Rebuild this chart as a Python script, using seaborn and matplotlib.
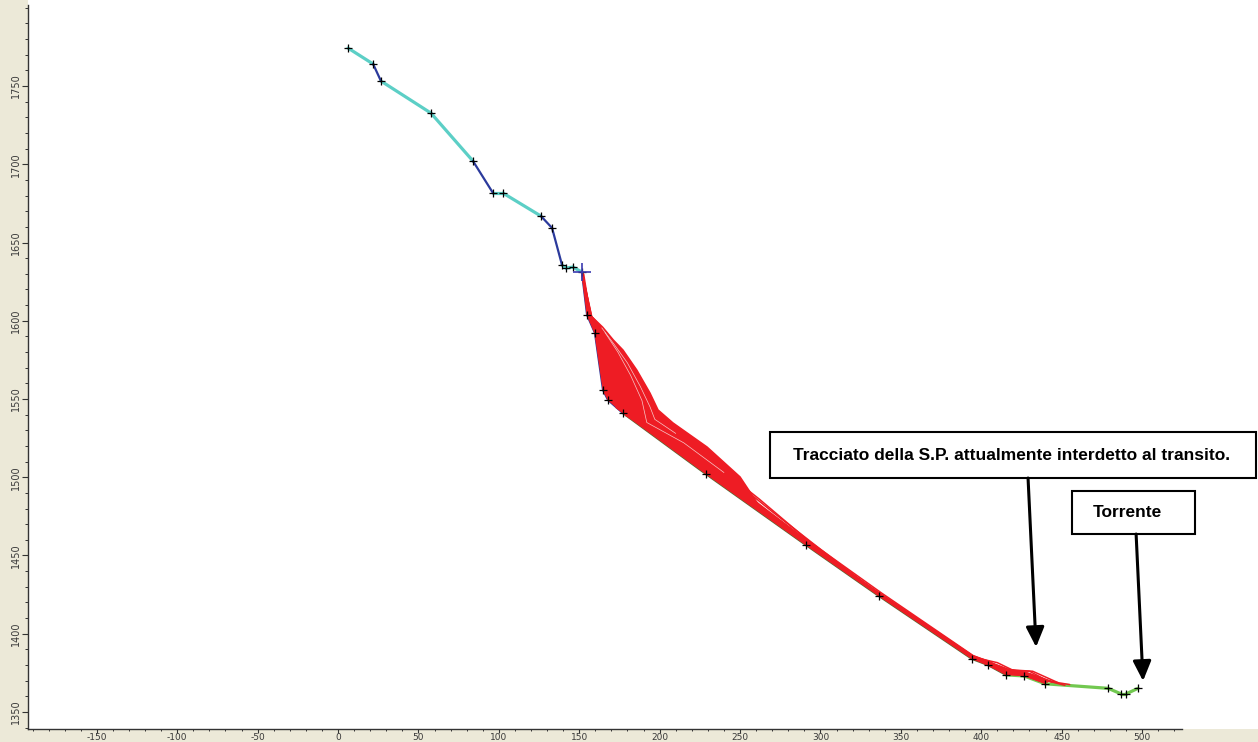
import numpy as np
import pandas as pd
import matplotlib
matplotlib.use("Agg")
import matplotlib.pyplot as plt
import seaborn as sns
from matplotlib.patches import Rectangle, FancyArrowPatch
from matplotlib.ticker import FixedLocator

# ---------------- data ----------------
slope_x = [6.2, 21.8, 26.7, 57.8, 83.9, 96.4, 102.6, 126.2, 133.1, 139.3, 141.8, 146.1,
           151.7, 154.9, 159.8, 164.8, 167.9, 177.2, 228.9, 291.0, 336.4, 394.3, 404.2,
           415.4, 426.6, 439.7, 478.9, 487.0, 490.0, 497.5]
slope_y = [1774.3, 1764.1, 1753.2, 1732.7, 1702.1, 1681.6, 1681.6, 1666.9, 1659.3, 1635.6,
           1633.7, 1634.3, 1631.1, 1603.7, 1592.2, 1555.8, 1549.4, 1541.0, 1502.0, 1456.7,
           1424.1, 1383.9, 1380.0, 1373.7, 1373.0, 1368.0, 1365.1, 1361.5, 1361.5, 1365.1]
# material of each slope segment (between consecutive vertices)
segment_material = ["A", "B", "A", "A", "B", "A", "A", "B", "B", "A", "A", "A",
                    "B", "B", "B", "B", "B",
                    "C", "C", "C", "C", "C", "C",
                    "D", "D", "D", "D", "D", "D"]

release_x = 151.7
release_y = 1631.1

# rock trajectories (x, y vertices)
traj_x = [
    [151.7, 155.0, 159.9, 165.0, 168.0, 177.3, 229.0, 291.0, 336.4, 394.3, 404.2, 415.4, 426.6, 439.7],
    [151.7, 155.6, 162.0, 168.0, 171.5, 173.0, 200.0, 229.5, 291.5, 336.8, 394.5, 415.6, 428.0, 441.0],
    [151.7, 156.2, 164.0, 172.0, 178.0, 181.0, 205.0, 230.0, 260.0, 292.0, 337.0, 395.0, 416.0, 430.0, 444.0],
    [151.7, 156.8, 166.0, 176.0, 184.0, 188.0, 210.0, 235.0, 262.0, 293.0, 338.0, 395.0, 417.0, 432.0, 448.0],
    [151.7, 157.0, 163.0, 169.0, 174.0, 177.5, 179.0, 200.0, 225.0, 255.0, 290.0, 336.5, 395.0, 410.0, 420.0, 436.0],
    [151.7, 157.4, 166.0, 174.0, 182.0, 189.0, 192.0, 215.0, 240.0, 270.0, 300.0, 336.5, 394.5, 416.0, 428.0, 446.0],
    [151.7, 157.6, 164.0, 172.0, 180.0, 188.0, 194.0, 197.0, 210.0, 228.0, 246.0, 265.0, 290.0, 336.5, 394.5, 415.0, 430.0, 442.0],
    [151.7, 157.8, 164.5, 171.2, 177.2, 185.8, 194.0, 199.0, 208.3, 229.5, 250.0, 262.4, 276.7, 304.1, 336.6, 394.5, 404.5, 415.6, 427.0, 440.0, 455.0],
    [151.7, 156.0, 160.5, 163.5, 165.5, 166.0, 177.5, 215.0, 245.0, 291.2, 336.5, 394.4, 415.5, 427.0, 452.0],
]
traj_y = [
    [1631.1, 1604.0, 1592.0, 1556.0, 1549.6, 1541.2, 1502.3, 1457.0, 1424.4, 1384.2, 1380.3, 1374.0, 1373.3, 1368.3],
    [1631.1, 1604.0, 1595.0, 1578.0, 1556.0, 1544.5, 1525.0, 1504.0, 1458.0, 1425.0, 1385.0, 1375.0, 1374.5, 1369.0],
    [1631.1, 1603.8, 1594.0, 1580.0, 1560.0, 1538.1, 1527.0, 1508.0, 1483.0, 1458.5, 1425.5, 1385.5, 1376.5, 1374.5, 1369.0],
    [1631.1, 1603.5, 1593.0, 1579.0, 1560.0, 1533.0, 1527.0, 1508.0, 1486.0, 1459.0, 1426.0, 1386.0, 1377.0, 1376.0, 1368.6],
    [1631.1, 1603.4, 1594.5, 1584.0, 1570.0, 1555.0, 1539.4, 1530.0, 1511.0, 1488.0, 1461.0, 1425.0, 1385.0, 1381.5, 1376.5, 1370.0],
    [1631.1, 1603.0, 1592.5, 1580.0, 1565.0, 1549.0, 1535.0, 1522.0, 1503.0, 1478.0, 1454.0, 1425.2, 1385.6, 1377.5, 1375.0, 1368.8],
    [1631.1, 1602.8, 1595.5, 1584.5, 1573.0, 1558.0, 1545.0, 1537.0, 1528.0, 1514.0, 1498.0, 1478.0, 1460.0, 1425.5, 1385.8, 1376.8, 1376.0, 1369.5],
    [1631.1, 1602.6, 1596.0, 1587.7, 1581.3, 1568.5, 1553.8, 1543.0, 1534.7, 1519.3, 1500.2, 1481.0, 1470.8, 1449.0, 1426.0, 1386.0, 1382.5, 1376.0, 1375.5, 1370.0, 1367.5],
    [1631.1, 1603.8, 1594.5, 1580.0, 1560.0, 1553.5, 1545.0, 1518.0, 1497.0, 1457.5, 1424.8, 1384.6, 1374.4, 1373.8, 1367.0],
]

# upper envelope of the dense trajectory fan
fan_upper_x = [151.7, 153.2, 156.0, 157.8, 164.5, 171.2, 177.2, 185.8, 194.0, 199.0, 208.3,
               229.5, 250.0, 262.4, 276.7, 304.1, 336.6, 394.5, 404.5, 415.6, 427.0, 440.0]
fan_upper_y = [1631.1, 1630.0, 1612.0, 1602.6, 1596.0, 1587.7, 1581.3, 1568.5, 1553.8, 1543.0,
               1534.7, 1519.3, 1500.2, 1481.0, 1470.8, 1449.0, 1426.0, 1386.0, 1382.5, 1376.0,
               1375.5, 1370.0]

x_major = list(range(-150, 501, 50))
y_major = list(range(1350, 1751, 50))

label_box = "Tracciato della S.P. attualmente interdetto al transito."
label_torrente = "Torrente"

# ---------------- styling ----------------
sns.set_style("white")
plt.rcParams["font.family"] = ["DejaVu Sans"]

BEIGE = "#ECE9D8"
CYAN = "#5ccfc6"
DBLUE = "#2b3a9c"
OLIVE = "#5b6a35"
GREEN = "#72c850"
RED = "#ee1c24"

palette = {"A": CYAN, "B": DBLUE, "C": OLIVE, "D": GREEN}
widths = {"A": 2.3, "B": 1.6, "C": 1.6, "D": 2.3}

W, H = 1258, 742
fig = plt.figure(figsize=(W / 100, H / 100), dpi=100, facecolor=BEIGE)
ax = fig.add_axes([28 / W, 13 / H, 1230 / W, 729 / H])
ax.set_facecolor("white")

XMIN, XMAX = -192.8, 572.1
YMIN, YMAX = 1339.1, 1805.0

# slope segments
rows = []
for i, m in enumerate(segment_material):
    rows.append(dict(seg=i, material=m, x=slope_x[i], y=slope_y[i], order=0))
    rows.append(dict(seg=i, material=m, x=slope_x[i + 1], y=slope_y[i + 1], order=1))
seg_df = pd.DataFrame(rows)
for m in ["C", "D", "A", "B"]:
    sub = seg_df[seg_df.material == m]
    sns.lineplot(data=sub, x="x", y="y", units="seg", estimator=None, sort=False,
                 color=palette[m], linewidth=widths[m], ax=ax, legend=False, zorder=2)

# dense fan
fan_poly_x = fan_upper_x + slope_x[25:11:-1]
fan_poly_y = fan_upper_y + slope_y[25:11:-1]
ax.fill(fan_poly_x, fan_poly_y, color=RED, lw=0, zorder=3)

# trajectories
trows = []
for k, (tx, ty) in enumerate(zip(traj_x, traj_y)):
    for j, (xx, yy) in enumerate(zip(tx, ty)):
        trows.append(dict(traj=k, x=xx, y=yy, j=j))
traj_df = pd.DataFrame(trows)
sns.lineplot(data=traj_df, x="x", y="y", units="traj", estimator=None, sort=False,
             color=RED, linewidth=1.1, ax=ax, legend=False, zorder=4)
# thin light strands in the upper fan
for k in [5, 6]:
    sns.lineplot(x=traj_x[k][2:9], y=traj_y[k][2:9], sort=False, color="#f7c9c9",
                 linewidth=0.5, ax=ax, legend=False, zorder=4.5)

# vertex markers
sns.scatterplot(x=slope_x, y=slope_y, marker="+", color="black", s=30, linewidth=0.9,
                ax=ax, legend=False, zorder=6)
ax.scatter([release_x], [release_y], marker="+", s=160, color="#3b3bb0", linewidths=1.2, zorder=7)

# axes
ax.set_xlim(XMIN, XMAX)
ax.set_ylim(YMIN, YMAX)
ax.set_xlabel("")
ax.set_ylabel("")
for s in ["top", "right"]:
    ax.spines[s].set_visible(False)
for s in ["left", "bottom"]:
    ax.spines[s].set_color("#333333")
    ax.spines[s].set_linewidth(1.0)
ax.spines["bottom"].set_bounds(XMIN, 525)
ax.spines["left"].set_bounds(YMIN, 1801.5)

ax.xaxis.set_major_locator(FixedLocator(x_major))
ax.xaxis.set_minor_locator(FixedLocator(list(range(-190, 521, 10))))
ax.yaxis.set_major_locator(FixedLocator(y_major))
ax.yaxis.set_minor_locator(FixedLocator(list(range(1340, 1801, 10))))
ax.set_xticklabels([str(v) for v in x_major])
ax.set_yticklabels([str(v) for v in y_major])
ax.tick_params(which="major", direction="out", length=4.3, width=0.8, color="#333333",
               labelsize=7, labelcolor="#3a3a3a", pad=1, bottom=True, left=True)
ax.tick_params(which="minor", direction="out", length=2.2, width=0.7, color="#333333",
               bottom=True, left=True)
ax.tick_params(axis="x", which="major", length=3.0, labelsize=6.5, pad=-0.3)
ax.tick_params(axis="x", which="minor", length=1.6)
plt.setp(ax.get_yticklabels(), rotation=90, va="center")
ax.grid(False)

# annotations
box_font = ["Liberation Sans", "DejaVu Sans"]
ax.add_patch(Rectangle((268.7, 1499.5), 570.9 - 268.7, 1528.9 - 1499.5, facecolor="white",
                       edgecolor="black", lw=1.5, zorder=8, clip_on=False))
ax.text(283.0, 1514.2, label_box, family=box_font, fontsize=12.5, fontweight="bold",
        ha="left", va="center", color="black", zorder=9)
ax.add_patch(Rectangle((456.5, 1463.7), 533.0 - 456.5, 1491.2 - 1463.7, facecolor="white",
                       edgecolor="black", lw=1.5, zorder=8, clip_on=False))
ax.text(469.5, 1477.4, label_torrente, family=box_font, fontsize=12.5, fontweight="bold",
        ha="left", va="center", color="black", zorder=9)

for (x0, y0, x1, y1) in [(429.1, 1499.5, 434.1, 1391.5), (496.3, 1463.7, 500.6, 1369.8)]:
    ax.add_patch(FancyArrowPatch((x0, y0), (x1, y1),
                                 arrowstyle="-|>,head_length=1.2,head_width=0.55",
                                 mutation_scale=10, lw=2.2, color="black",
                                 shrinkA=0, shrinkB=0, zorder=8))

fig.savefig("out.png", dpi=100, facecolor=fig.get_facecolor())
